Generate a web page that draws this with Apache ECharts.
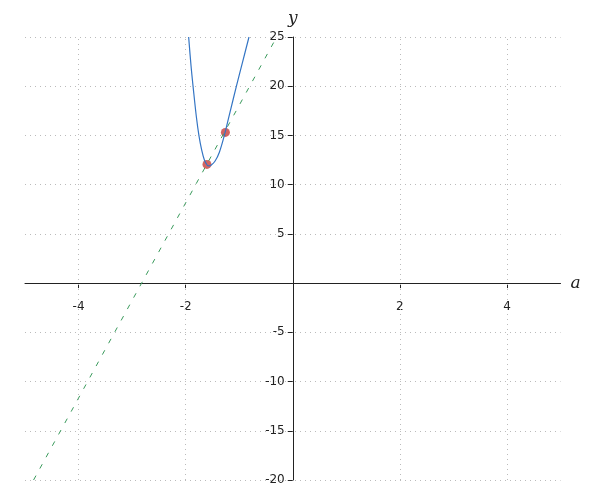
<!DOCTYPE html>
<html>
<head>
<meta charset="utf-8">
<script src="https://cdn.jsdelivr.net/npm/echarts@6/dist/echarts.min.js"></script>
<style>html,body{margin:0;padding:0;background:#fff}#c{width:600px;height:500px}</style>
</head>
<body>
<div id="c"></div>
<script>
// Curve samples (a, y)
const curveA = [-1.944, -1.90, -1.856, -1.80, -1.751, -1.70, -1.65, -1.60, -1.57, -1.52, -1.45, -1.37, -1.284, -1.17, -1.052, -0.935, -0.817];
const curveY = [25.0, 22.1, 19.7, 16.9, 14.95, 13.5, 12.5, 12.0, 11.9, 12.0, 12.4, 13.3, 14.87, 17.4, 20.0, 22.5, 25.0];
// Secant line endpoints
const lineA = [-4.84, -0.30];
const lineY = [-20, 25];
// Marked points
const ptA = [-1.602, -1.258];
const ptY = [12.06, 15.31];
// Ticks
const xTicks = [-4, -2, 2, 4];
const yMin = -20, yMax = 25, yStep = 5;
const xMin = -5, xMax = 5;

const zip = (a, b) => a.map((v, i) => [v, b[i]]);

const G = {left: 25, right: 39.5, top: 37, bottom: 20};
const W = 600, H = 500;

const chart = echarts.init(document.getElementById('c'), null, {renderer: 'canvas'});
const labelFont = {fontFamily: 'DejaVu Sans', fontSize: 12, color: '#222'};
chart.setOption({
  animation: false,
  grid: Object.assign({containLabel: false, outerBoundsMode: 'none'}, G),
  xAxis: {
    type: 'value', min: xMin, max: xMax, position: 'bottom',
    name: 'a', nameLocation: 'end', nameGap: 10,
    nameTextStyle: {fontFamily: 'DejaVu Serif', fontStyle: 'italic', fontSize: 17, color: '#222', verticalAlign: 'middle'},
    axisLine: {onZero: false, lineStyle: {color: '#222', width: 1}},
    axisTick: {show: true, customValues: xTicks, length: 5, lineStyle: {color: '#222'}},
    axisLabel: Object.assign({customValues: xTicks, margin: 18}, labelFont),
    splitLine: {show: false}
  },
  yAxis: {
    type: 'value', min: yMin, max: yMax, interval: yStep, position: 'left',
    name: 'y', nameLocation: 'end', nameGap: 10,
    nameTextStyle: {fontFamily: 'DejaVu Serif', fontStyle: 'italic', fontSize: 17, color: '#222', align: 'center'},
    axisLine: {onZero: false, lineStyle: {color: '#222', width: 1}},
    axisTick: {show: true, length: 5, lineStyle: {color: '#222'}},
    axisLabel: Object.assign({margin: 8, formatter: v => v === 0 ? '' : String(v)}, labelFont),
    splitLine: {show: true, lineStyle: {type: [1, 4], color: '#bbb', width: 1}}
  },
  series: [
    {
      type: 'line', data: [], silent: true,
      markLine: {
        symbol: 'none', silent: true, label: {show: false},
        lineStyle: {type: [1, 4], color: '#bbb', width: 1},
        data: xTicks.map(v => ({xAxis: v}))
      }
    },
    {
      type: 'line', data: zip(lineA, lineY), symbol: 'none', silent: true,
      lineStyle: {color: '#3a9a5c', width: 1, type: [5, 8]}
    },
    {
      type: 'line', data: zip(curveA, curveY), symbol: 'none', smooth: 0.35, silent: true,
      lineStyle: {color: '#3475c4', width: 1.2}
    },
    {
      type: 'scatter', data: zip(ptA, ptY), symbolSize: 9, silent: true,
      itemStyle: {color: '#c83d3a'}
    }
  ]
});
// Move the axes so they cross at the origin
const origin = chart.convertToPixel({gridIndex: 0}, [0, 0]);
chart.setOption({
  xAxis: {offset: -((H - G.bottom) - origin[1])},
  yAxis: {offset: -(origin[0] - G.left)}
});
</script>
</body>
</html>
